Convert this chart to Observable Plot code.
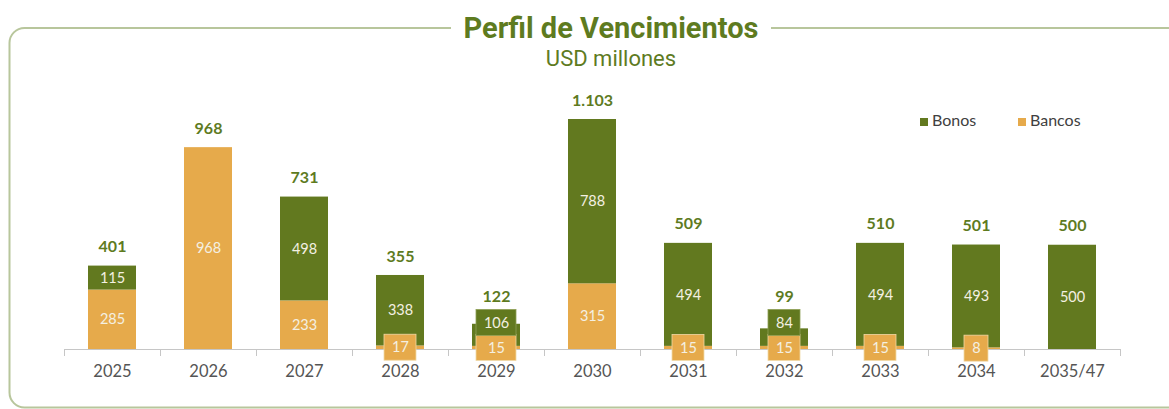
<!DOCTYPE html>
<html><head><meta charset="utf-8">
<script src="https://cdn.jsdelivr.net/npm/d3@7"></script>
<script src="https://cdn.jsdelivr.net/npm/@observablehq/plot@0.6"></script>
<style>
body{margin:0;background:#fff;}
#wrap{position:relative;width:1169px;height:409px;overflow:hidden;background:#fff;}
#bg{position:absolute;left:0;top:0;}
#chart{position:absolute;left:0;top:80px;}
</style></head>
<body><div id="wrap">
<svg id="bg" width="1169" height="409"></svg>
<div id="chart"></div>
</div>
<script>
// ---- data ----
const categories = ["2025","2026","2027","2028","2029","2030","2031","2032","2033","2034","2035/47"];
const bonos  = [115, 0, 498, 338, 106, 788, 494, 84, 494, 493, 500];
const bancos = [285, 968, 233, 17, 15, 315, 15, 15, 15, 8, 0];
const totals = [401, 968, 731, 355, 122, 1103, 509, 99, 510, 501, 500];
const seriesNames = ["Bonos", "Bancos"];
const titleText = "Perfil de Vencimientos";
const subtitleText = "USD millones";

// ---- styles ----
const GREEN = "#62791f", ORANGE = "#e6aa4b", TITLE = "#5e7b1f", LABEL = "#f4f0e2";
const fmt = d3.formatLocale({decimal: ",", thousands: ".", grouping: [3], currency: ["$", ""]}).format(",d");

// ---- background: frame, title, legend ----
const bg = d3.select("#bg");
bg.append("rect").attr("x", 9.5).attr("y", 28).attr("width", 1200).attr("height", 379.5)
  .attr("rx", 15).attr("fill", "none").attr("stroke", "#b8c69c").attr("stroke-width", 2);
bg.append("rect").attr("x", 451).attr("y", 12).attr("width", 320).attr("height", 32).attr("fill", "#fff");
bg.append("text").attr("x", 611).attr("y", 37.5).attr("text-anchor", "middle")
  .attr("font-family", "Roboto").attr("font-weight", 700).attr("font-size", 29).attr("fill", TITLE).text(titleText);
bg.append("text").attr("x", 611).attr("y", 66).attr("text-anchor", "middle")
  .attr("font-family", "Roboto").attr("font-size", 22).attr("fill", TITLE).text(subtitleText);
const legColors = [GREEN, ORANGE];
seriesNames.forEach((s, i) => {
  const g = bg.append("g").attr("transform", `translate(${920 + i * 98},0)`);
  g.append("rect").attr("x", 0).attr("y", 118).attr("width", 8).attr("height", 8).attr("fill", legColors[i]);
  g.append("text").attr("x", 12).attr("y", 125.5).attr("font-family", "Lato").attr("font-size", 16)
    .attr("fill", "#404040").text(s);
});

// ---- chart rows ----
const rows = [];
categories.forEach((c, i) => {
  if (bancos[i] > 0) rows.push({year: c, series: "Bancos", value: bancos[i], y1: 0, y2: bancos[i]});
  if (bonos[i] > 0) rows.push({year: c, series: "Bonos", value: bonos[i], y1: bancos[i], y2: bancos[i] + bonos[i]});
});
rows.forEach(r => { r.mid = (r.y1 + r.y2) / 2; r.label = String(r.value); });

// boxed labels for small segments
const bancosBoxed = new Set(categories.filter((c, i) => bancos[i] > 0 && bancos[i] < 50));
rows.forEach(r => {
  if (r.series === "Bancos") r.boxed = bancosBoxed.has(r.year);
  else r.boxed = bancosBoxed.has(r.year) && r.value < 150;
});
const colBoxLen = {};
rows.filter(r => r.boxed).forEach(r => { colBoxLen[r.year] = Math.max(colBoxLen[r.year] || 0, r.label.length); });
rows.forEach(r => {
  if (!r.boxed) return;
  r.w = 16 + 8 * colBoxLen[r.year];
  r.anchor = bancos[categories.indexOf(r.year)] / 2;   // box anchored on the Bancos midpoint
  r.shift = r.series === "Bancos" ? 0 : -25;
});

const totRows = categories.map((c, i) => ({
  year: c, top: bancos[i] + bonos[i], label: fmt(totals[i]),
  stacked: rows.some(r => r.year === c && r.series === "Bonos" && r.boxed),
  base: bancos[i] / 2
}));

// ---- layout ----
const W = 1169, H = 329, mL = 64, mR = 49, mT = 39, mB = 60;
const pInner = 0.5, pOuter = 0.25;
const step = (W - mL - mR) / (categories.length - pInner + 2 * pOuter);
const bw = step * (1 - pInner);

const boxMarks = [];
const groups = d3.groups(rows.filter(r => r.boxed), r => `${r.w}|${r.shift}|${r.series}`);
for (const [, g] of groups) {
  const {w, shift, series} = g[0];
  const ins = (bw - w) / 2;
  boxMarks.push(Plot.barY(g, {
    x: "year", y1: "anchor", y2: "anchor", dy: shift,
    fill: series === "Bancos" ? ORANGE : GREEN,
    stroke: series === "Bancos" ? "#f1d9a6" : "#8fa158", strokeWidth: 0.8,
    insetLeft: ins, insetRight: ins, insetTop: -13, insetBottom: -13
  }));
  boxMarks.push(Plot.text(g, {
    x: "year", y: "anchor", dy: shift, text: "label", fill: LABEL, fontSize: 14.5
  }));
}

const chart = Plot.plot({
  width: W, height: H,
  marginLeft: mL, marginRight: mR, marginTop: mT, marginBottom: mB,
  style: {background: "transparent", fontFamily: "Lato", overflow: "visible"},
  x: {domain: categories, paddingInner: pInner, paddingOuter: pOuter},
  y: {domain: [0, d3.max(totRows, d => d.top)], axis: null},
  color: {domain: seriesNames, range: [GREEN, ORANGE]},
  marks: [
    Plot.barY(rows, {x: "year", y1: "y1", y2: "y2", fill: "series"}),
    Plot.ruleY([0], {stroke: "#c6c6c6", strokeWidth: 1.2}),
    Plot.axisX({tickSize: 0, tickPadding: 16, fontSize: 16.5, fill: "#555555", label: null}),
    Plot.axisX({tickSize: 7, tickFormat: () => "", dx: -step / 2, stroke: "#c6c6c6", label: null}),
    Plot.axisX([categories[categories.length - 1]], {tickSize: 7, tickFormat: () => "", dx: step / 2, stroke: "#c6c6c6", label: null}),
    Plot.text(rows.filter(r => !r.boxed), {x: "year", y: "mid", text: "label", fill: LABEL, fontSize: 14.5}),
    ...boxMarks,
    Plot.text(totRows.filter(d => !d.stacked), {x: "year", y: "top", dy: -19, text: "label", fill: TITLE, fontSize: 16, fontWeight: 700}),
    Plot.text(totRows.filter(d => d.stacked), {x: "year", y: "base", dy: -51, text: "label", fill: TITLE, fontSize: 16, fontWeight: 700})
  ]
});
document.getElementById("chart").appendChild(chart);
</script>
</body></html>
